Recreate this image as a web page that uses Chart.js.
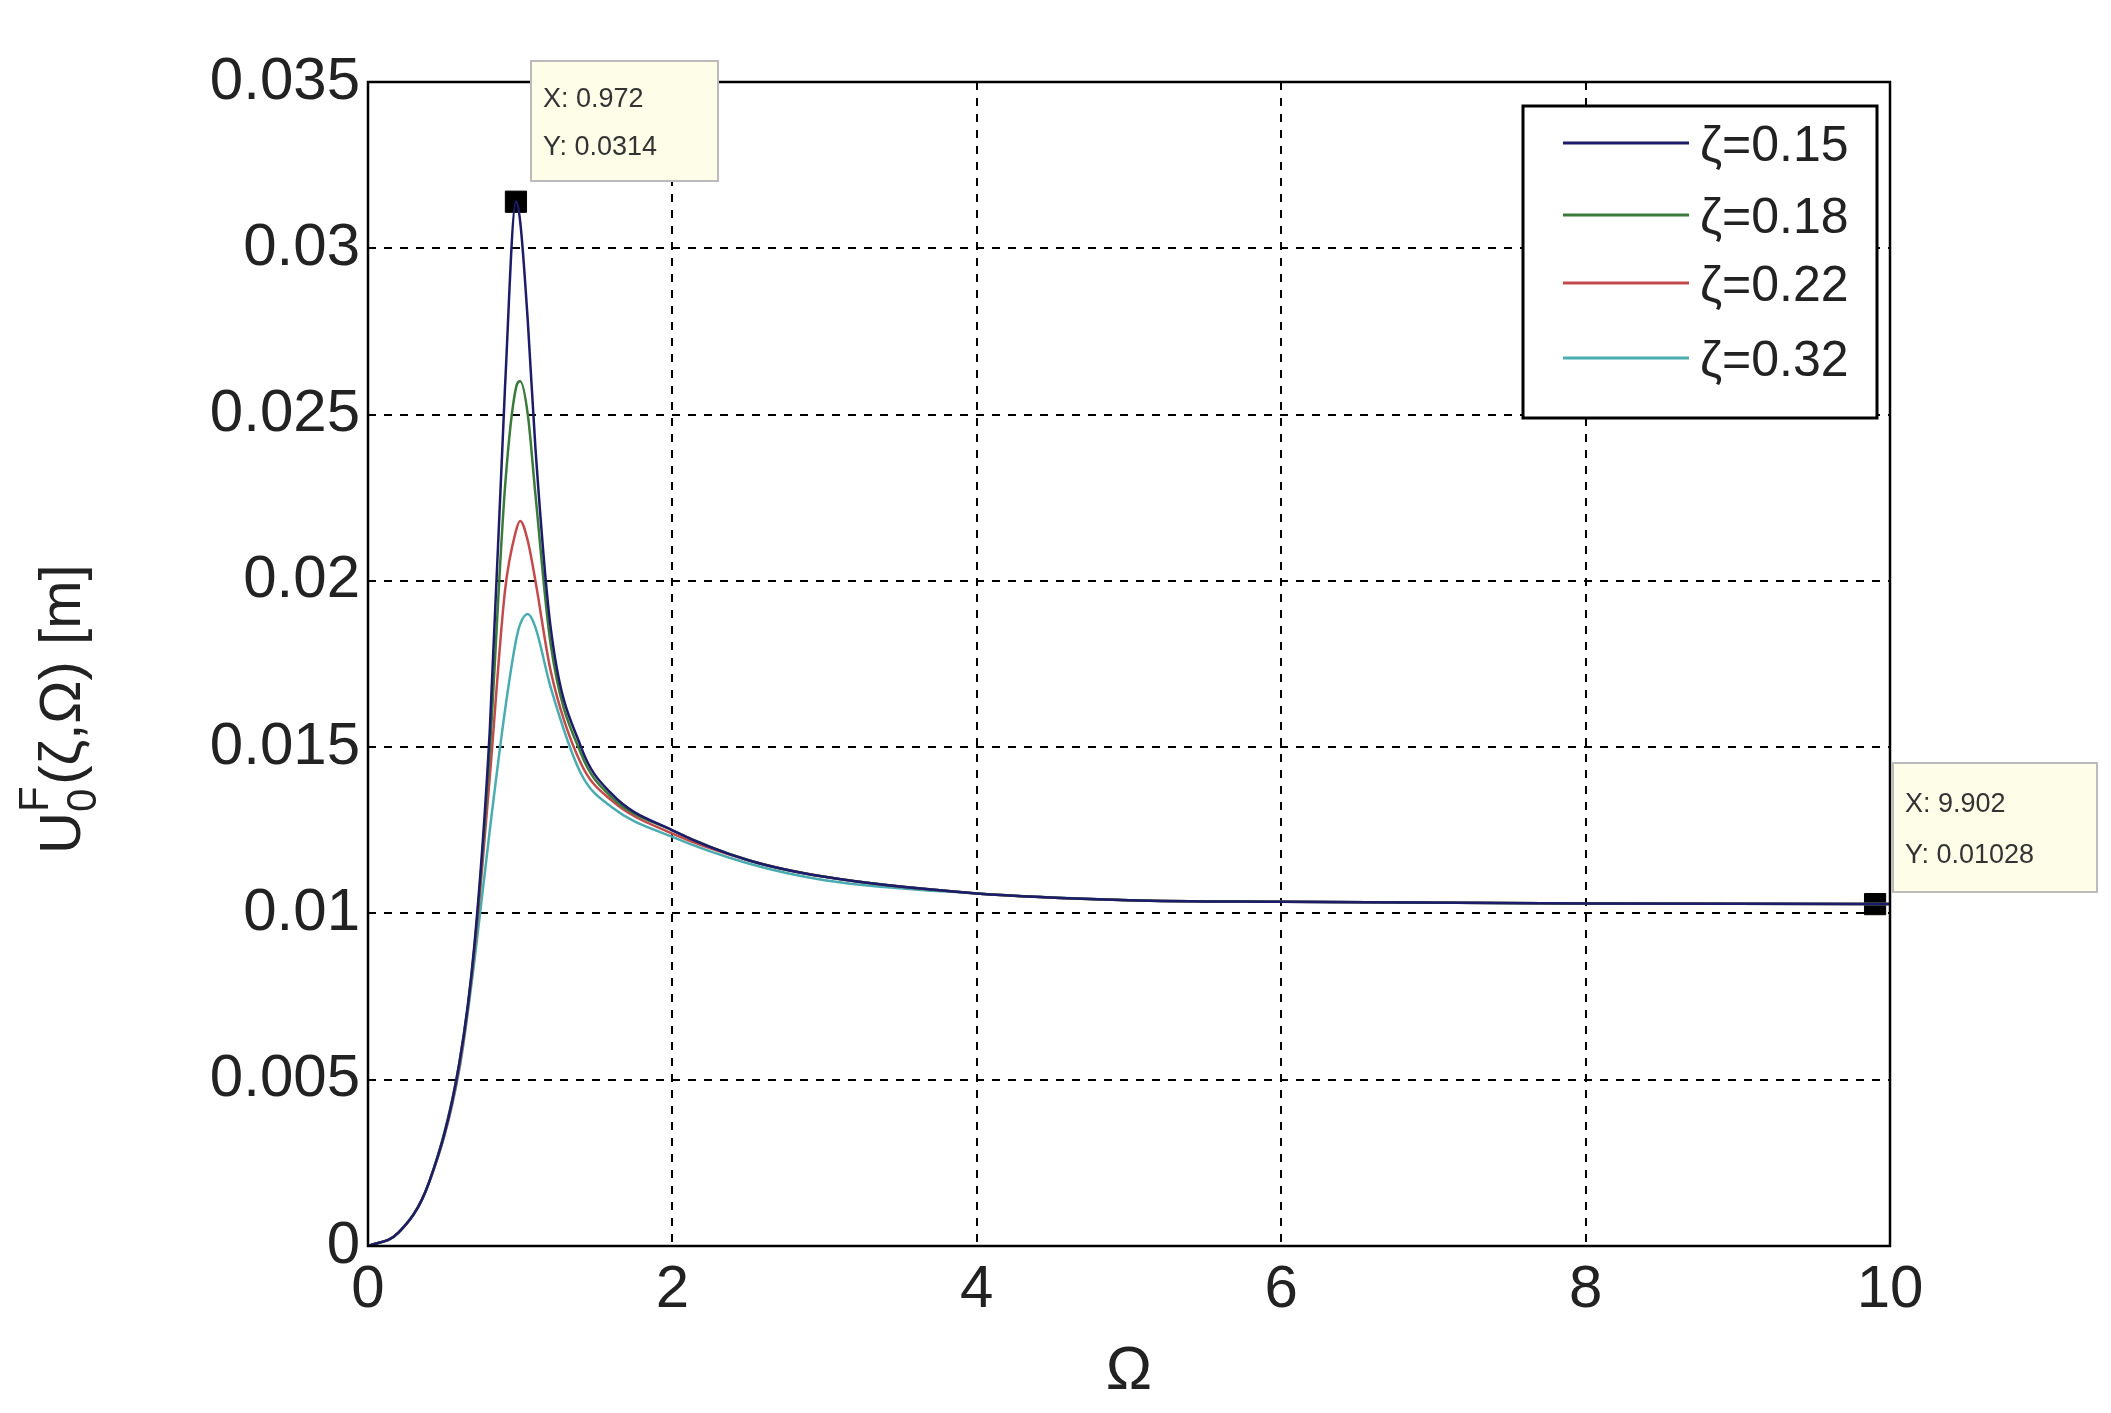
<!DOCTYPE html>
<html lang="en">
<head>
<meta charset="UTF-8">
<title>Frequency response</title>
<script src="https://cdn.jsdelivr.net/npm/chart.js"></script>
<style>
  body, html { margin: 0; height: 100%; background: #fff; }
  #wrap { width: 2111px; height: 1413px; }
</style>
</head>
<body>
<div id="wrap"><canvas id="c"></canvas></div>
<script>
const omega = [0, 0.2, 0.4, 0.6, 0.7, 0.8, 0.9, 0.972, 1.0, 1.05, 1.1, 1.2, 1.4, 1.6, 2, 2.5, 3, 4, 5, 6, 8, 9.902, 10];
const u015 = [0, 0.0004, 0.0019, 0.0055, 0.0091, 0.0155, 0.0258, 0.0314, 0.0308, 0.0278, 0.0240, 0.0186, 0.0150, 0.0136, 0.0125, 0.0116, 0.0111, 0.0106, 0.0104, 0.01035, 0.0103, 0.01028, 0.01028];
const u018 = [0, 0.0004, 0.0019, 0.0055, 0.0090, 0.0149, 0.0228, 0.0258, 0.0260, 0.0250, 0.0226, 0.0181, 0.0148, 0.0135, 0.0125, 0.0116, 0.0111, 0.0106, 0.0104, 0.01035, 0.0103, 0.01028, 0.01028];
const u022 = [0, 0.0004, 0.0019, 0.0054, 0.0089, 0.0141, 0.0197, 0.0215, 0.0218, 0.0212, 0.0200, 0.0173, 0.0145, 0.0134, 0.0124, 0.0116, 0.0111, 0.0106, 0.0104, 0.01035, 0.0103, 0.01028, 0.01028];
const u032 = [0, 0.0004, 0.0019, 0.0053, 0.0086, 0.0125, 0.0161, 0.0182, 0.0187, 0.0190, 0.0186, 0.0168, 0.0142, 0.0132, 0.0123, 0.0115, 0.0110, 0.0106, 0.0104, 0.01035, 0.0103, 0.01028, 0.01028];
const seriesNames = ['ζ=0.15', 'ζ=0.18', 'ζ=0.22', 'ζ=0.32'];
const seriesColors = ['#1c1c6a', '#3a7a3a', '#c24a4a', '#4aacb0'];
const tips = [[0.972, 0.0314], [9.902, 0.01028]];
const tipLabels = [['X: 0.972', 'Y: 0.0314'], ['X: 9.902', 'Y: 0.01028']];

const toXY = arr => arr.map((v, i) => ({ x: omega[i], y: v }));
const datasets = [u015, u018, u022, u032].map((s, i) => ({
  label: seriesNames[i], data: toXY(s), borderColor: seriesColors[i],
  borderWidth: 2.5, pointRadius: 0, cubicInterpolationMode: 'monotone', fill: false
}));
datasets.push({
  label: 'tips', data: tips.map(t => ({ x: t[0], y: t[1] })),
  showLine: false, pointStyle: 'rect', pointRadius: 15, backgroundColor: '#000', borderColor: '#000'
});

const decor = {
  id: 'decor',
  afterDraw(chart) {
    const ctx = chart.ctx, a = chart.chartArea;
    ctx.save();
    ctx.strokeStyle = '#000'; ctx.lineWidth = 2.5;
    ctx.strokeRect(a.left, a.top, a.right - a.left, a.bottom - a.top);
    // legend
    const lx = 1523, ly = 106, lw = 354, lh = 312;
    ctx.fillStyle = '#fff'; ctx.fillRect(lx, ly, lw, lh);
    ctx.lineWidth = 3; ctx.strokeStyle = '#000'; ctx.strokeRect(lx, ly, lw, lh);
    ctx.font = '50px "Liberation Sans", Arial, sans-serif';
    ctx.textBaseline = 'middle';
    [143, 215, 283, 358].forEach((y, i) => {
      ctx.strokeStyle = seriesColors[i]; ctx.lineWidth = 3;
      ctx.beginPath(); ctx.moveTo(1563, y); ctx.lineTo(1689, y); ctx.stroke();
      ctx.fillStyle = '#222'; ctx.fillText(seriesNames[i], 1700, y + 4);
    });
    // datatips
    const boxes = [[531, 61, 187, 120], [1893, 763, 204, 129]];
    ctx.font = '27px "Liberation Sans", Arial, sans-serif';
    boxes.forEach((b, i) => {
      ctx.fillStyle = '#fdfde8'; ctx.fillRect(b[0], b[1], b[2], b[3]);
      ctx.strokeStyle = '#bbb'; ctx.lineWidth = 2; ctx.strokeRect(b[0], b[1], b[2], b[3]);
      ctx.fillStyle = '#333';
      ctx.fillText(tipLabels[i][0], b[0] + 12, b[1] + b[3] * 0.32);
      ctx.fillText(tipLabels[i][1], b[0] + 12, b[1] + b[3] * 0.72);
    });
    // y-axis label
    ctx.translate(62, (a.top + a.bottom) / 2);
    ctx.rotate(-Math.PI / 2);
    ctx.fillStyle = '#222'; ctx.textBaseline = 'alphabetic';
    ctx.font = '58px "Liberation Sans", Arial, sans-serif';
    let x = -190;
    ctx.fillText('U', x, 18); x += ctx.measureText('U').width;
    ctx.font = '42px "Liberation Sans", Arial, sans-serif';
    ctx.fillText('0', x, 34); ctx.fillText('F', x, -14);
    x += ctx.measureText('0').width + 4;
    ctx.font = '58px "Liberation Sans", Arial, sans-serif';
    ctx.fillText('(ζ,Ω) [m]', x, 18);
    ctx.restore();
  }
};

const tickFont = { family: '"Liberation Sans", Arial, sans-serif', size: 60 };
new Chart(document.getElementById('c'), {
  type: 'line',
  data: { datasets },
  plugins: [decor],
  options: {
    responsive: true, maintainAspectRatio: false, animation: false,
    layout: { padding: { top: 82, right: 221, left: 0, bottom: 0 } },
    plugins: { legend: { display: false }, tooltip: { enabled: false } },
    scales: {
      x: {
        type: 'linear', min: 0, max: 10,
        ticks: { stepSize: 2, font: tickFont, color: '#222', padding: 8 },
        grid: { color: '#000', lineWidth: 2, drawTicks: false },
        border: { display: false, dash: [8, 8] },
        title: { display: true, text: 'Ω', font: { ...tickFont, size: 62 }, color: '#222', padding: { top: 0 } },
        afterFit: s => { s.height = 167; }
      },
      y: {
        min: 0, max: 0.035,
        ticks: { stepSize: 0.005, font: tickFont, color: '#222', padding: 8,
          callback: v => +v.toFixed(3) + '' },
        grid: { color: '#000', lineWidth: 2, drawTicks: false },
        border: { display: false, dash: [8, 8] },
        afterFit: s => { s.width = 368; }
      }
    }
  }
});
</script>
</body>
</html>
